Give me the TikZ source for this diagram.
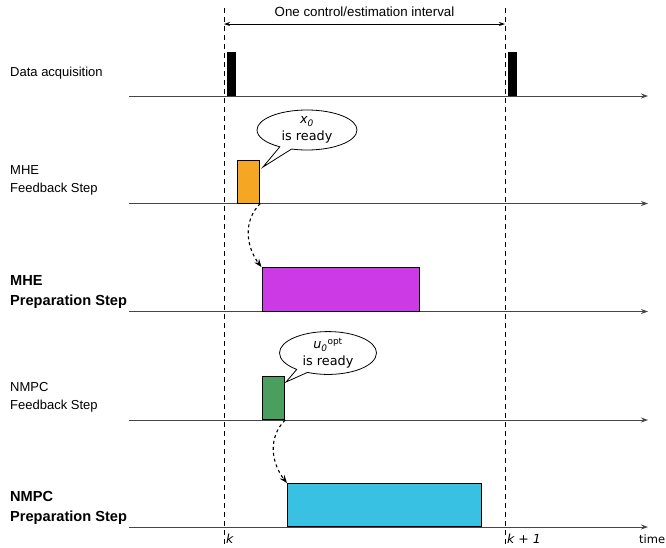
\documentclass[tikz,border=0pt]{standalone}
\usepackage{fontspec}
\setmainfont{Liberation Sans}
\newfontfamily\dvsans{DejaVu Sans}
\usetikzlibrary{arrows.meta,shapes.callouts,calc}
\definecolor{mheorange}{RGB}{245,167,36}
\definecolor{mhemagenta}{RGB}{204,58,230}
\definecolor{nmpcgreen}{RGB}{74,158,94}
\definecolor{nmpccyan}{RGB}{57,193,228}
\definecolor{axisgray}{RGB}{70,70,70}
\tikzset{
    timeaxis/.style={draw=axisgray, line width=1pt, -{Stealth[length=7pt,width=5pt]}},
    tickline/.style={draw=black, line width=0.8pt, dash pattern=on 5pt off 4pt},
    rowlabel/.style={font=\fontsize{13}{18}\selectfont, align=left, anchor=west, inner sep=0pt},
    rowlabelbold/.style={font=\fontsize{14.6}{20}\selectfont\bfseries, align=left, anchor=west, inner sep=0pt},
    stepbox/.style={draw=black, line width=0.9pt, anchor=south west, inner sep=0pt},
    readybubble/.style={ellipse callout, draw=black, line width=0.8pt, fill=white,
        inner sep=0pt, align=center, font=\dvsans\fontsize{12.8}{17}\selectfont},
    handover/.style={draw=black, line width=1.1pt, dashed, -{Stealth[length=8pt,width=6pt]}}
}

\begin{document}
\begin{tikzpicture}[x=1pt, y=-1pt]
\useasboundingbox (0,0) rectangle (666,547);

% row labels
\node[rowlabel] (lbldata) at (10,73) {Data acquisition};
\node[rowlabel] (lblmhefb) at (10,180) {MHE\\Feedback Step};
\node[rowlabelbold] (lblmheprep) at (10,292) {MHE\\Preparation Step};
\node[rowlabel] (lblnmpcfb) at (10,397) {NMPC\\Feedback Step};
\node[rowlabelbold] (lblnmpcprep) at (10,508) {NMPC\\Preparation Step};

% time axes
\foreach \name/\y in {data/96, mhefb/203.5, mheprep/311.5, nmpcfb/420, nmpcprep/527} {
    \coordinate (\name start) at (129,\y);
    \coordinate (\name end) at (648,\y);
    \draw[timeaxis] (\name start) -- (\name end);
}

% sampling instants
\coordinate (ktop) at (224,8);
\coordinate (kbot) at (224,547);
\coordinate (konetop) at (505,8);
\coordinate (konebot) at (505,547);
\draw[tickline] (ktop) -- (kbot);
\draw[tickline] (konetop) -- (konebot);

% interval
\coordinate (intl) at (224,24);
\coordinate (intr) at (505,24);
\draw[line width=0.8pt, {Stealth[length=6pt,width=4pt]}-{Stealth[length=6pt,width=4pt]}] (intl) -- (intr);
\node[font=\fontsize{13.3}{15}\selectfont] (inttext) at (364.5,12) {One control/estimation interval};

% data acquisition pulses
\fill[black] (227,52) rectangle (236,96);
\fill[black] (507.5,52) rectangle (516.5,96);

% MHE
\node[stepbox, fill=mheorange, minimum width=22pt, minimum height=43pt] (mhefbbox) at (237.3,203.5) {};
\node[stepbox, fill=mhemagenta, minimum width=157pt, minimum height=43.5pt] (mheprepbox) at (261.5,311.5) {};
\node[readybubble, minimum width=100pt, minimum height=40pt,
    callout absolute pointer={(263,167)}] (mhebubble) at (307,130)
    {\itshape x\textsubscript{0}\\is ready};
\draw[handover] (mhefbbox.south east) .. controls (242,222) and (247,248) .. (mheprepbox.north west);

% NMPC
\node[stepbox, fill=nmpcgreen, minimum width=22pt, minimum height=43.5pt] (nmpcfbbox) at (262.3,420) {};
\node[stepbox, fill=nmpccyan, minimum width=194pt, minimum height=43pt] (nmpcprepbox) at (287,527) {};
\node[readybubble, minimum width=97pt, minimum height=41pt,
    callout absolute pointer={(286,382)}] (nmpcbubble) at (328,353)
    {{\itshape u\textsubscript{0}}\textsuperscript{opt}\\is ready};
\draw[handover] (nmpcfbbox.south east) .. controls (267,438) and (272,464) .. (nmpcprepbox.north west);

% time instants
\node[font=\dvsans\itshape\fontsize{12.5}{14}\selectfont, anchor=west, inner sep=0pt] (klabel) at (226,539) {k};
\node[font=\dvsans\itshape\fontsize{12.5}{14}\selectfont, anchor=west, inner sep=0pt] (konelabel) at (507,539) {k + 1};
\node[font=\dvsans\fontsize{11.5}{13}\selectfont, anchor=west, inner sep=0pt] (timelabel) at (639,539) {time};
\end{tikzpicture}
\end{document}
